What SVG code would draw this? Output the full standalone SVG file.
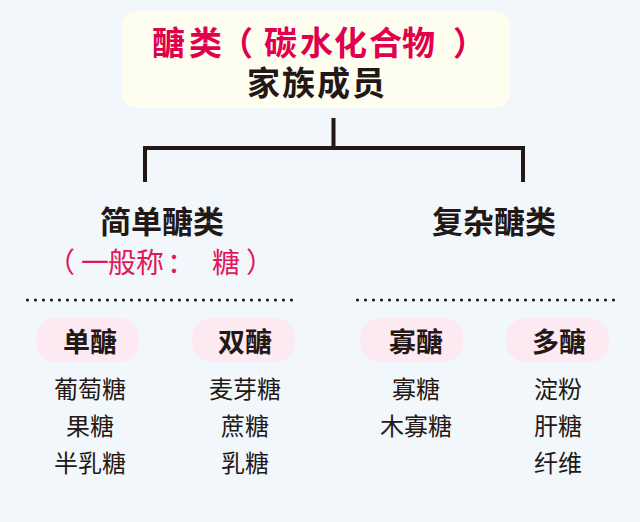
<svg xmlns="http://www.w3.org/2000/svg" width="640" height="522" viewBox="0 0 640 522">
<style>
text{font-family:"Noto Sans CJK SC","Noto Sans CJK JP",sans-serif;text-anchor:middle;fill:#231815}
.st{text-anchor:start}
.red{fill:#e0004d}
.h{font-size:31px;font-weight:bold}
.sub{font-size:28px;font-weight:normal;fill:#e0195a}
.pill{fill:#fde9f1}
.pt{font-size:27px;font-weight:bold}
.it{font-size:24px}
.conn{stroke:#231815;stroke-width:4;fill:none}
.dot{stroke:#231815;stroke-width:3.2;stroke-linecap:round;stroke-dasharray:0 8;fill:none}
</style>
<rect width="640" height="522" fill="#f1f7fb"/>
<g id="root">
<rect x="122" y="11" width="388" height="97" rx="15" fill="#fefef0"/>
<text x="152 189 220 264 300 334 369 402 453" y="55" class="h red st" style="font-size:33px">醣类（碳水化合物）</text>
<text x="247 282 317 352" y="95" class="h st" style="font-size:33px">家族成员</text>
</g>
<g id="connectors">
<path class="conn" d="M333.5 118V148M145 182V148H523V182"/>
<line class="dot" x1="27.5" y1="300" x2="297.5" y2="300"/>
<line class="dot" x1="357.5" y1="300" x2="617.5" y2="300"/>
</g>
<g id="simple">
<text x="162" y="233" class="h">简单醣类</text>
<text x="47 81 108 136 167 212 246" y="273" class="sub st">（一般称：糖）</text>
</g>
<g id="complex">
<text x="494" y="233" class="h">复杂醣类</text>
</g>
<g id="mono">
<rect class="pill" x="36" y="318" width="103" height="44" rx="20"/>
<text x="90" y="352" class="pt">单醣</text>
<text x="90" y="398" class="it">葡萄糖</text>
<text x="90" y="435" class="it">果糖</text>
<text x="90" y="472" class="it">半乳糖</text>
</g>
<g id="di">
<rect class="pill" x="192" y="318" width="103" height="44" rx="20"/>
<text x="245" y="352" class="pt">双醣</text>
<text x="245" y="398" class="it">麦芽糖</text>
<text x="245" y="435" class="it">蔗糖</text>
<text x="245" y="472" class="it">乳糖</text>
</g>
<g id="oligo">
<rect class="pill" x="360" y="318" width="103" height="44" rx="20"/>
<text x="416" y="352" class="pt">寡醣</text>
<text x="416" y="398" class="it">寡糖</text>
<text x="416" y="435" class="it">木寡糖</text>
</g>
<g id="poly">
<rect class="pill" x="506" y="318" width="103" height="44" rx="20"/>
<text x="559" y="352" class="pt">多醣</text>
<text x="558" y="398" class="it">淀粉</text>
<text x="558" y="435" class="it">肝糖</text>
<text x="558" y="472" class="it">纤维</text>
</g>
</svg>
